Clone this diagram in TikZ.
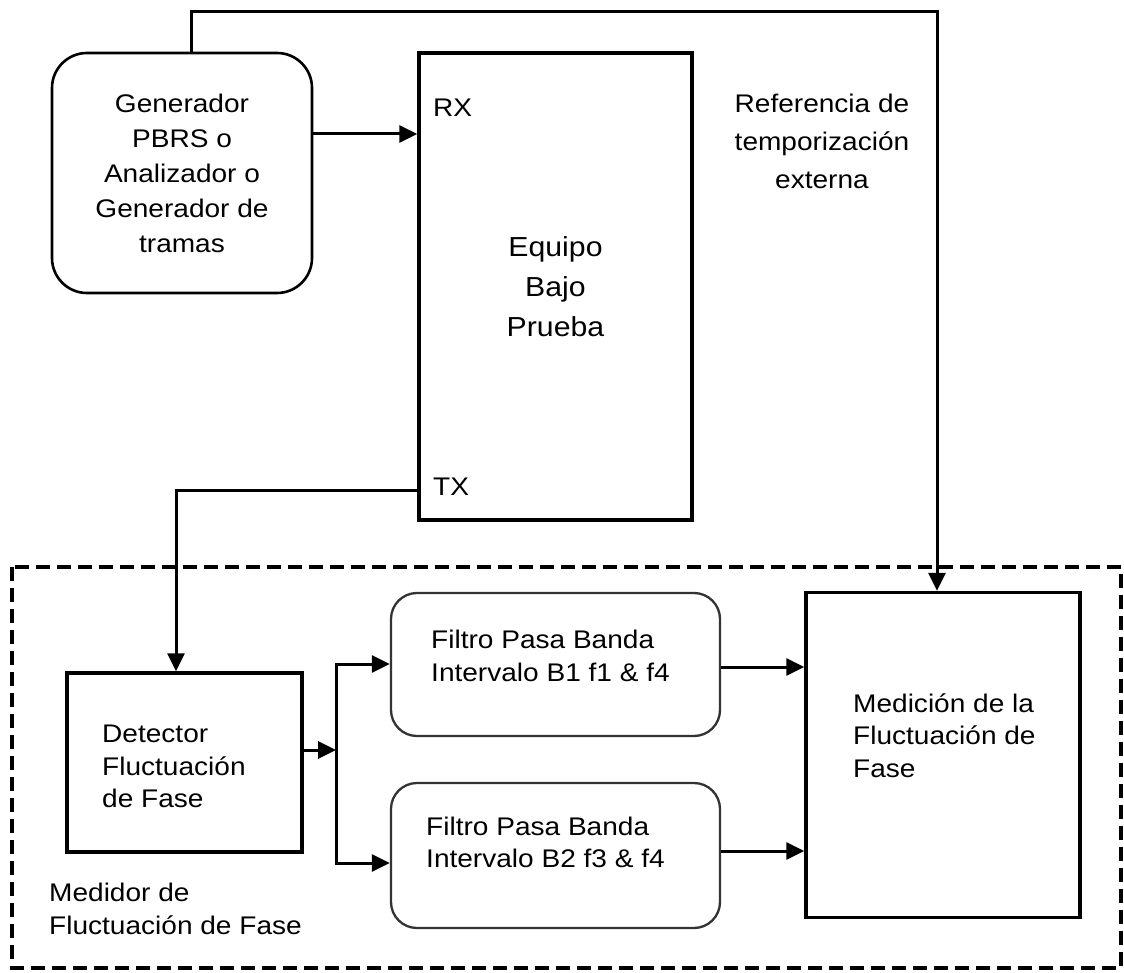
\documentclass[tikz,border=0pt]{standalone}
\usepackage{fontspec}
\setmainfont{Liberation Sans}[FakeStretch=1.1]
\usetikzlibrary{arrows.meta,calc}
\begin{document}
\begin{tikzpicture}[x=1pt,y=-1pt,
  every node/.style={font=\fontsize{25.5}{32.5}\selectfont},
  box/.style={draw,line width=3.4pt,inner sep=0pt},
  rbox/.style={draw,line width=2.6pt,rounded corners=35pt,inner sep=0pt},
  fbox/.style={draw=black!80,line width=2.3pt,rounded corners=26pt,inner sep=0pt},
  lbl/.style={inner sep=0pt,align=left},
  arr/.style={line width=3pt,-{Triangle[length=18pt,width=17pt]}},
  frame/.style={line width=3.2pt,dash pattern=on 14pt off 7pt},
]
\useasboundingbox (0,0) rectangle (1124,973);

% dashed frame of the jitter meter
\draw[frame] (12,567) rectangle (1121,968);

% nodes
\node[rbox, minimum width=260pt, minimum height=240pt, align=center,
      font=\fontsize{25.5}{35}\selectfont] (gen) at (182,173)
      {Generador\\PBRS o\\Analizador o\\Generador de\\tramas};
\node[box, minimum width=273pt, minimum height=467pt, align=center,
      font=\fontsize{27.5}{40}\selectfont] (eut) at (555.5,286.5)
      {Equipo\\Bajo\\Prueba};
\node[lbl, anchor=west] (rx) at (433,108) {RX};
\node[lbl, anchor=west] (tx) at (433,487) {TX};
\node[inner sep=0pt, align=center, font=\fontsize{25.5}{38}\selectfont] (ref) at (822,141)
      {Referencia de\\temporización\\externa};

\node[box, minimum width=235pt, minimum height=179pt] (det) at (184.5,762.5) {};
\node[lbl, anchor=west] (dettxt) at (102,766.5) {Detector\\Fluctuación\\de Fase};
\node[lbl, anchor=west] (medidor) at (49,909) {Medidor de\\Fluctuación de Fase};

\node[fbox, minimum width=329pt, minimum height=143pt] (f1) at (555.5,664.5) {};
\node[lbl, anchor=west] (f1txt) at (431,656) {Filtro Pasa Banda\\Intervalo B1 f1 \& f4};
\node[fbox, minimum width=329pt, minimum height=145pt] (f2) at (555.5,855.5) {};
\node[lbl, anchor=west] (f2txt) at (426,842.5) {Filtro Pasa Banda\\Intervalo B2 f3 \& f4};

\node[box, minimum width=274pt, minimum height=325pt] (med) at (943,755) {};
\node[lbl, anchor=west] (medtxt) at (853,735.5) {Medición de la\\Fluctuación de\\Fase};

% connectors
\coordinate (gtop) at ([xshift=9pt]gen.north);
\draw[arr] (gtop) -- (gtop |- 0,12) -| ([xshift=-6pt]med.north);
\draw[arr] (gen.east |- 0,134) -- (eut.west |- 0,134);
\coordinate (txp) at (eut.west |- 0,490);
\draw[arr] (txp) -| ([xshift=-8.5pt]det.north);
\coordinate (bus) at (336,750);
\draw[arr] (det.east |- bus) -- (bus);
\draw[arr] (bus) |- (f1.west |- 0,664);
\draw[arr] (bus) |- (f2.west |- 0,863);
\draw[arr] (f1.east |- 0,667) -- (med.west |- 0,667);
\draw[arr] (f2.east |- 0,851) -- (med.west |- 0,851);
\end{tikzpicture}
\end{document}
